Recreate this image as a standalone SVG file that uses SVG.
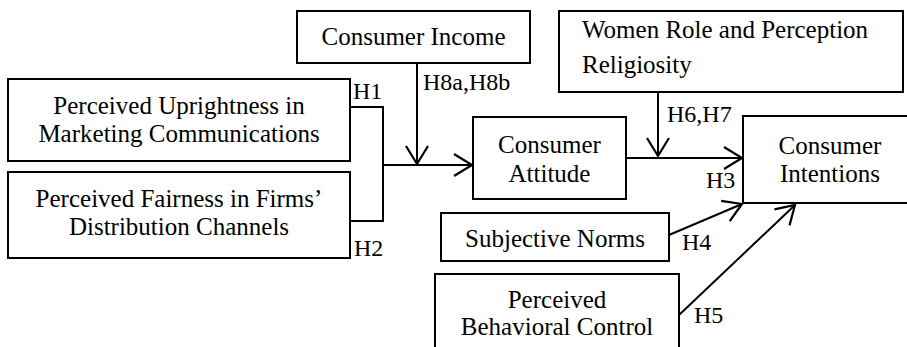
<svg xmlns="http://www.w3.org/2000/svg" width="907" height="347" viewBox="0 0 907 347">
<style>
.box{fill:#fff;stroke:#000;stroke-width:2}
.t{font-family:"Liberation Serif","Times New Roman",serif;font-size:25px;fill:#000}
.c{text-anchor:middle}
.lbl{font-family:"Liberation Serif","Times New Roman",serif;font-size:24px;fill:#000}
.ln{fill:none;stroke:#000;stroke-width:2}
</style>
<defs>
<marker id="arr" markerUnits="userSpaceOnUse" markerWidth="24" markerHeight="26" viewBox="-20 -13 24 26" refX="0" refY="0" orient="auto">
<path d="M-18,-11 L0,0 L-18,11" fill="none" stroke="#000" stroke-width="2.2"/>
</marker>
</defs>
<rect width="907" height="347" fill="#fff"/>
<g id="income">
<rect class="box" x="297" y="11" width="233" height="52"/>
<text class="t c" x="413.5" y="45">Consumer Income</text>
</g>
<g id="women">
<rect class="box" x="559" y="11" width="344" height="81"/>
<text class="t" x="582" y="38">Women Role and Perception</text>
<text class="t" x="582" y="73">Religiosity</text>
</g>
<g id="upright">
<rect class="box" x="8" y="79" width="342" height="82"/>
<text class="t c" x="179" y="114">Perceived Uprightness in</text>
<text class="t c" x="179" y="142">Marketing Communications</text>
</g>
<g id="fairness">
<rect class="box" x="8" y="172" width="342" height="86"/>
<text class="t c" x="179" y="207">Perceived Fairness in Firms’</text>
<text class="t c" x="179" y="235">Distribution Channels</text>
</g>
<g id="attitude">
<rect class="box" x="473" y="117" width="153" height="82"/>
<text class="t c" x="549.5" y="153">Consumer</text>
<text class="t c" x="549.5" y="182">Attitude</text>
</g>
<g id="intentions">
<rect class="box" x="743" y="116" width="170" height="87"/>
<text class="t c" x="830" y="154">Consumer</text>
<text class="t c" x="830" y="182">Intentions</text>
</g>
<g id="norms">
<rect class="box" x="441" y="213" width="228" height="48"/>
<text class="t c" x="555" y="247">Subjective Norms</text>
</g>
<g id="pbc">
<rect class="box" x="435" y="274" width="244" height="80"/>
<text class="t c" x="557" y="308">Perceived</text>
<text class="t c" x="557" y="335">Behavioral Control</text>
</g>
<g id="connectors">
<polyline class="ln" points="350,107 383,107 383,221 350,221"/>
<line class="ln" x1="383" y1="165" x2="472" y2="165" marker-end="url(#arr)"/>
<line class="ln" x1="417" y1="63" x2="417" y2="164" marker-end="url(#arr)"/>
<line class="ln" x1="626" y1="158" x2="742" y2="158" marker-end="url(#arr)"/>
<line class="ln" x1="658" y1="92" x2="658" y2="156" marker-end="url(#arr)"/>
<line class="ln" x1="669" y1="235" x2="742" y2="204" marker-end="url(#arr)"/>
<line class="ln" x1="679" y1="315" x2="795" y2="205" marker-end="url(#arr)"/>
<text class="lbl" x="353" y="99">H1</text>
<text class="lbl" x="423" y="90">H8a,H8b</text>
<text class="lbl" x="354" y="256">H2</text>
<text class="lbl" x="667" y="122">H6,H7</text>
<text class="lbl" x="706" y="188">H3</text>
<text class="lbl" x="682" y="250">H4</text>
<text class="lbl" x="694" y="323">H5</text>
</g>
</svg>
